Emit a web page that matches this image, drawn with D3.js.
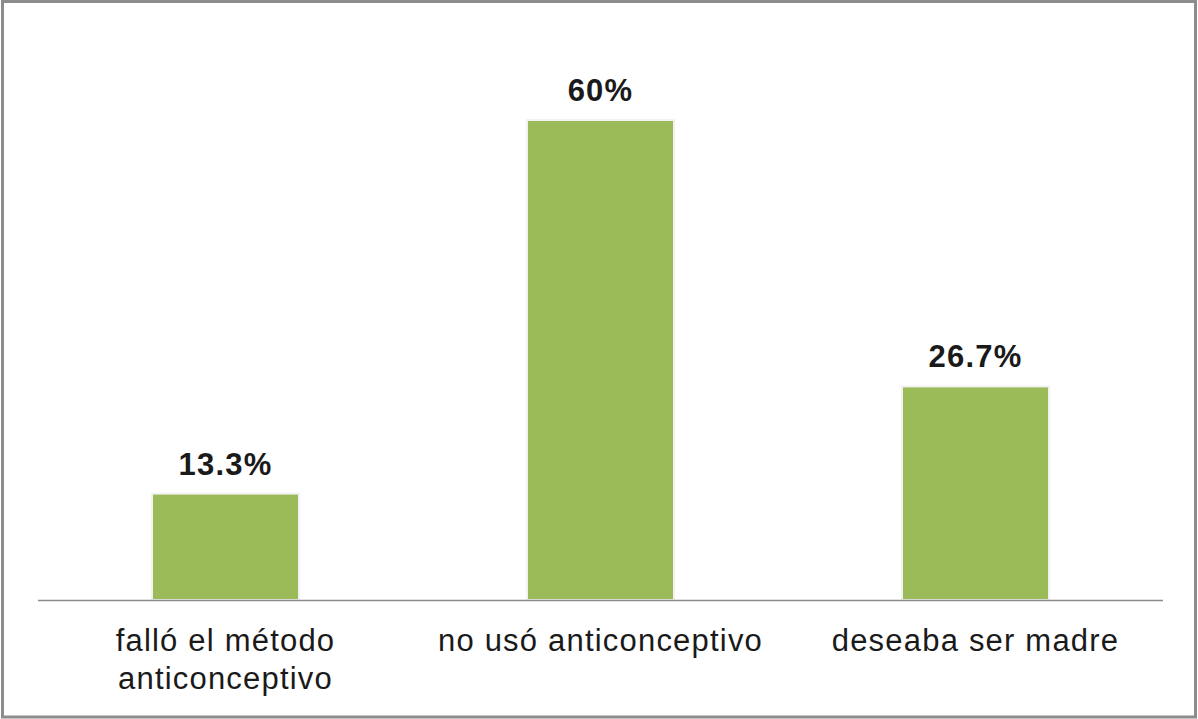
<!DOCTYPE html>
<html>
<head>
<meta charset="utf-8">
<script src="https://cdn.jsdelivr.net/npm/d3@7"></script>
<style>
  body { margin: 0; background: #fff; }
  svg { display: block; font-family: "Liberation Sans", Arial, sans-serif; }
</style>
</head>
<body>
<svg id="chart" width="1198" height="719"></svg>
<script>
// data
const categories = [["falló el método", "anticonceptivo"], ["no usó anticonceptivo"], ["deseaba ser madre"]];
const values = [13.3, 60, 26.7];
const valueLabels = ["13.3%", "60%", "26.7%"];

const W = 1198, H = 719;
const margin = { top: 40, right: 35, bottom: 119, left: 38 };
const svg = d3.select("#chart");

// outer frame
svg.append("rect").attr("x", 2.5).attr("y", 1.5).attr("width", W - 5).attr("height", H - 3.5)
  .attr("fill", "#fff").attr("stroke", "#8c8c8c").attr("stroke-width", 3);

const x = d3.scaleBand()
  .domain(d3.range(values.length))
  .range([margin.left, W - margin.right])
  .paddingInner(0.608).paddingOuter(0.304);

const y = d3.scaleLinear().domain([0, 70]).range([H - margin.bottom, margin.top]);

const g = svg.append("g");

// bars with a light edge
g.selectAll("rect.bar").data(values).enter().append("rect")
  .attr("class", "bar")
  .attr("x", (d, i) => x(i))
  .attr("y", d => y(d))
  .attr("width", x.bandwidth())
  .attr("height", d => y(0) - y(d))
  .attr("fill", "#9bbb59")
  .attr("stroke", "#f2f2f2").attr("stroke-width", 2);

// baseline
g.append("line")
  .attr("x1", margin.left).attr("x2", W - margin.right)
  .attr("y1", y(0) + 0.5).attr("y2", y(0) + 0.5)
  .attr("stroke", "#8c8c8c").attr("stroke-width", 1.5);

// value labels
g.selectAll("text.val").data(values).enter().append("text")
  .attr("class", "val")
  .attr("x", (d, i) => x(i) + x.bandwidth() / 2)
  .attr("y", d => y(d) - 19)
  .attr("text-anchor", "middle")
  .attr("font-size", 31).attr("font-weight", "bold").attr("fill", "#1a1a1a")
  .attr("letter-spacing", 1.2)
  .text((d, i) => valueLabels[i]);

// category labels
const cat = g.selectAll("text.cat").data(categories).enter().append("text")
  .attr("class", "cat")
  .attr("x", (d, i) => x(i) + x.bandwidth() / 2)
  .attr("y", y(0) + 51)
  .attr("text-anchor", "middle")
  .attr("font-size", 31).attr("fill", "#1a1a1a")
  .attr("letter-spacing", 1.2);
cat.selectAll("tspan").data(d => d).enter().append("tspan")
  .attr("x", function () { return d3.select(this.parentNode).attr("x"); })
  .attr("dy", (d, i) => i === 0 ? 0 : 38)
  .text(d => d);
</script>
</body>
</html>
